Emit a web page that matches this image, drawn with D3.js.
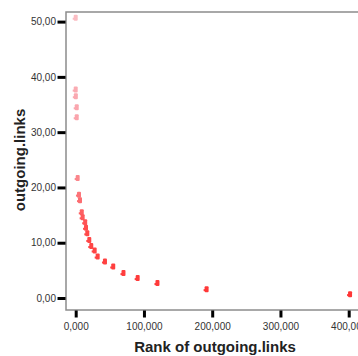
<!DOCTYPE html>
<html><head><meta charset="utf-8">
<script src="https://cdn.jsdelivr.net/npm/d3@7"></script>
<style>body{margin:0;background:#fff}svg{display:block}</style>
</head><body>
<svg id="c" width="358" height="356"></svg>
<script>
const ranks = [1, 1, 200, 1500, 1500, 2900, 4800, 6300, 8900, 10200, 13900, 15100, 17000, 19900, 22800, 27800, 32200, 42900, 55000, 70000, 90800, 119800, 191800, 402000];
const links = [50.7, 37.7, 36.5, 34.5, 32.7, 21.7, 18.7, 17.7, 15.5, 14.6, 13.7, 12.7, 11.7, 10.5, 9.4, 8.6, 7.5, 6.6, 5.7, 4.5, 3.6, 2.7, 1.6, 0.7];
const xTicks = [0, 100000, 200000, 300000, 400000];
const yTicks = [0, 10, 20, 30, 40, 50];
const xTitle = "Rank of outgoing.links";
const yTitle = "outgoing.links";

(function () {
const svg = d3.select("#c");
const pL = 66, pT = 12, pB = 310, pR = 366;
const x = d3.scaleLinear().domain([0, 400000]).range([75.7, 348.7]);
const y = d3.scaleLinear().domain([0, 50]).range([298, 21.6]);
const fmtX = v => d3.format(",.3f")(v / 1000).replace(".", ",");
const fmtY = v => d3.format(".2f")(v).replace(".", ",");
const FF = "Liberation Sans, Arial, sans-serif";

// frame
svg.append("rect").attr("x", pL).attr("y", pT).attr("width", pR - pL).attr("height", pB - pT)
  .attr("fill", "none").attr("stroke", "#8c8c8c").attr("stroke-width", 1.5);

// y axis
const ya = svg.append("g").attr("transform", `translate(${pL - 0.5},0)`)
  .call(d3.axisLeft(y).tickValues(yTicks).tickSize(8).tickPadding(1.5).tickFormat(fmtY));
ya.select(".domain").remove();
ya.selectAll(".tick line").attr("stroke", "#000").attr("stroke-width", 3);
ya.selectAll(".tick text").attr("font-family", FF).attr("font-size", 10).attr("fill", "#333");

// x axis
const xa = svg.append("g").attr("transform", `translate(0,${pB + 0.5})`)
  .call(d3.axisBottom(x).tickValues(xTicks).tickSize(7).tickPadding(5).tickFormat(fmtX));
xa.select(".domain").remove();
xa.selectAll(".tick line").attr("stroke", "#000").attr("stroke-width", 3);
xa.selectAll(".tick text").attr("font-family", FF).attr("font-size", 10).attr("fill", "#333");

// titles
svg.append("text").attr("x", 215).attr("y", 352).attr("text-anchor", "middle")
  .attr("font-family", FF).attr("font-weight", "bold").attr("font-size", 15)
  .attr("fill", "#222").text(xTitle);
svg.append("text").attr("transform", "translate(25,160) rotate(-90)").attr("text-anchor", "middle")
  .attr("font-family", FF).attr("font-weight", "bold").attr("font-size", 15)
  .attr("fill", "#222").text(yTitle);

// points
const col = d3.scaleLinear().domain([0, 12, 25, 51]).range(["#ff3535", "#ff4a4a", "#f99aa3", "#fbbcc2"]);
const g = svg.append("g");
ranks.forEach((r, i) => {
  const cx = x(r), cy = y(links[i]), c = col(links[i]);
  const m = g.append("g").attr("transform", `translate(${cx},${cy})`);
  m.append("rect").attr("x", -2).attr("y", -3).attr("width", 4).attr("height", 6).attr("rx", 1).attr("fill", c);
  m.append("rect").attr("x", -3).attr("y", 0).attr("width", 2).attr("height", 2).attr("fill", c);
});
})();
</script>
</body></html>
